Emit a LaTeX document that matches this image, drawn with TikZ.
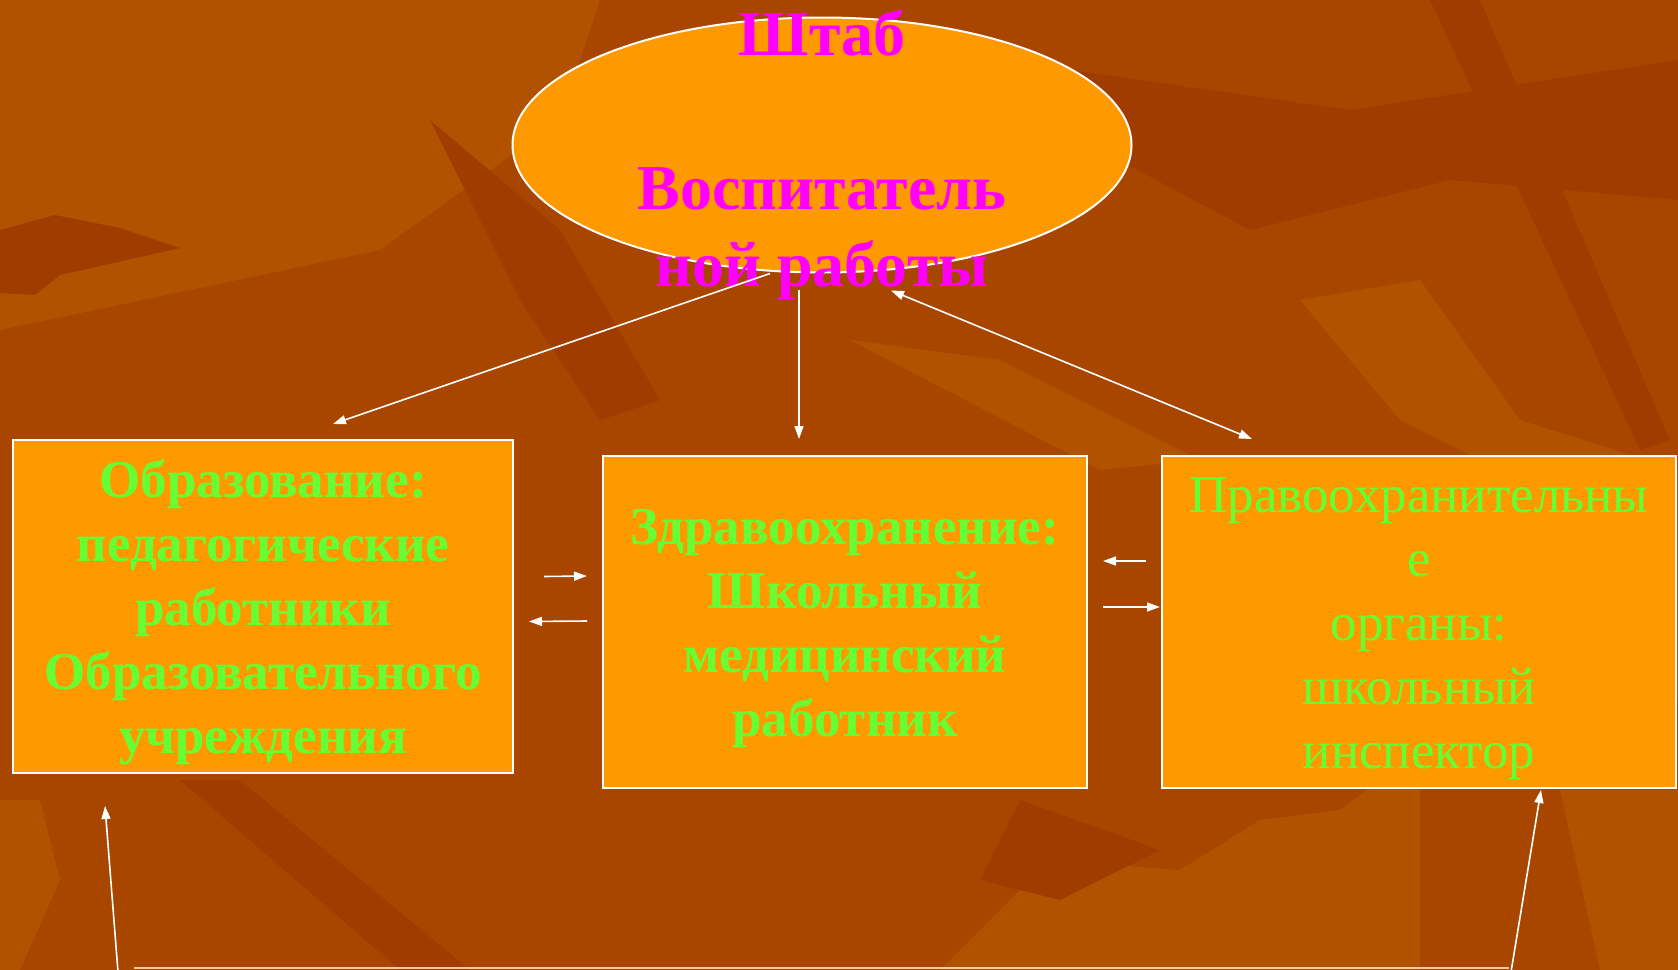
\documentclass[tikz,border=0pt]{standalone}
\usepackage{fontspec}
\setmainfont{Liberation Serif}
\usetikzlibrary{shapes.geometric,arrows.meta}
\definecolor{bgbase}{HTML}{A84600}
\definecolor{bgdark}{HTML}{A03C00}
\definecolor{bglight}{HTML}{B05200}
\definecolor{boxfill}{HTML}{FF9900}
\definecolor{txtgreen}{HTML}{66FF33}
\definecolor{txtmag}{HTML}{FF00FF}
\definecolor{peach}{HTML}{F4C9A0}
\tikzset{
  boxnode/.style={draw=white, line width=1pt, fill=boxfill, rectangle, inner sep=0pt},
  boxtext/.style={align=center, text=txtgreen, inner sep=0pt},
  boldtxt/.style={font=\fontsize{26.5pt}{32pt}\selectfont\bfseries},
  regtxt/.style={font=\fontsize{26.5pt}{32pt}\selectfont},
  arr/.style={draw=white, line width=0.8pt, -{Triangle[length=6.5pt,width=4.5pt]}},
  darr/.style={draw=white, line width=0.8pt, {Triangle[length=6.5pt,width=4.5pt]}-{Triangle[length=6.5pt,width=4.5pt]}}
}
\begin{document}
\begin{tikzpicture}[x=0.5pt,y=-0.5pt]
\useasboundingbox (0,0) rectangle (1678,970);
\fill[bgbase] (0,0) rectangle (1678,970);
% background texture
\fill[bglight] (0,0) -- (600,0) -- (560,120) -- (380,250) -- (0,330) -- cycle;
\fill[bgdark] (0,230) -- (55,215) -- (120,228) -- (180,248) -- (60,275) -- (35,295) -- (0,293) -- cycle;
\fill[bgdark] (430,120) -- (560,230) -- (660,400) -- (600,420) -- (520,300) -- cycle;
\fill[bgdark] (1000,60) -- (1350,110) -- (1678,60) -- (1678,200) -- (1450,180) -- (1250,230) -- (1100,150) -- cycle;
\fill[bglight] (1300,300) -- (1420,280) -- (1520,420) -- (1678,470) -- (1678,700) -- (1600,520) -- (1400,420) -- cycle;
\fill[bgdark] (1430,0) -- (1480,0) -- (1670,440) -- (1640,450) -- cycle;
\fill[bglight] (850,340) -- (1000,360) -- (1200,460) -- (1100,470) -- cycle;
\fill[bgdark] (180,780) -- (240,780) -- (470,970) -- (400,970) -- cycle;
\fill[bglight] (940,970) -- (1050,860) -- (1180,870) -- (1260,820) -- (1340,810) -- (1420,750) -- (1420,970) -- cycle;
\fill[bgdark] (1020,800) -- (1160,850) -- (1060,900) -- (980,880) -- cycle;
\fill[bglight] (0,800) -- (40,800) -- (60,880) -- (20,970) -- (0,970) -- cycle;
\fill[bglight] (1560,790) -- (1678,790) -- (1678,970) -- (1600,970) -- cycle;

% top ellipse
\node[ellipse, draw=white, line width=1pt, fill=boxfill, minimum width=309.5pt, minimum height=127.5pt, inner sep=0pt] (shtab) at (822,145) {};
\node[text=txtmag, align=center, font=\fontsize{32pt}{38.5pt}\selectfont\bfseries] (shtabtext) at (822,155) {Штаб\\ ~\\ Воспитатель\\ ной работы};

% boxes
\node[boxnode, minimum width=250pt, minimum height=166.5pt] (edu) at (263,606.5) {};
\node[boxtext, boldtxt] (edutext) at (263,612)
  {Образование:\\ педагогические\\ работники\\ Образовательного\\ учреждения};
\node[boxnode, minimum width=242pt, minimum height=166pt] (health) at (845,622) {};
\node[boxtext, boldtxt] (healthtext) at (845,629)
  {Здравоохранение:\\ Школьный\\ медицинский\\ работник};
\node[boxnode, minimum width=257pt, minimum height=166pt] (law) at (1419,622) {};
\node[boxtext, regtxt] (lawtext) at (1419,629)
  {Правоохранительны\\ е\\ органы:\\ школьный\\ инспектор};

% connectors from the headquarters
\draw[arr] ([xshift=-26pt]shtab.south) -- ([shift={(35pt,7.5pt)}]edu.north);
\draw[arr] ([shift={(-11.5pt,-8pt)}]shtab.south) -- ([shift={(-23pt,8pt)}]health.north);
\draw[darr] ([shift={(34.5pt,-8.5pt)}]shtab.south) -- ([shift={(-83.5pt,8pt)}]law.north);

% horizontal arrows between boxes
\draw[arr] ([shift={(15pt,15pt)}]edu.east) -- ([shift={(-7.5pt,23pt)}]health.west);
\draw[arr] ([shift={(-7.5pt,0.5pt)}]health.west) -- ([shift={(7.5pt,-7.5pt)}]edu.east);
\draw[arr] ([shift={(-7.5pt,30.5pt)}]law.west) -- ([shift={(7.5pt,30.5pt)}]health.east);
\draw[arr] ([shift={(7.5pt,7.5pt)}]health.east) -- ([shift={(-0.5pt,7.5pt)}]law.west);

% bottom connectors
\coordinate (botleft) at (118,972);
\coordinate (botright) at (1511,972);
\coordinate (lineL) at (134,968);
\coordinate (lineR) at (1509,968);
\draw[peach, line width=1.2pt] (lineL) -- (lineR);
\draw[arr] (botleft) -- ([shift={(-79pt,-16pt)}]edu.south);
\draw[arr] (botright) -- ([shift={(61pt,-0.5pt)}]law.south);
\end{tikzpicture}
\end{document}
